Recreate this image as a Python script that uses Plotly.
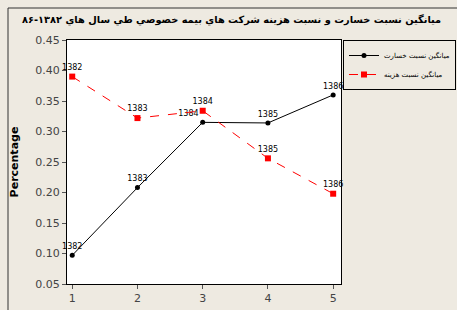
import plotly.graph_objects as go

years = [1, 2, 3, 4, 5]
year_labels = ["1382", "1383", "1384", "1385", "1386"]
loss_ratio = [0.097, 0.208, 0.315, 0.314, 0.360]
cost_ratio = [0.390, 0.322, 0.334, 0.256, 0.198]
y_ticks = [0.05, 0.10, 0.15, 0.20, 0.25, 0.30, 0.35, 0.40, 0.45]

title_text = "ميانگين نسبت خسارت و نسبت هزينه شرکت هاي بيمه خصوصي طي سال هاي ۱۳۸۲-۸۶"
name_loss = "ميانگين نسبت خسارت"
name_cost = "ميانگين نسبت هزينه"

bg = "#EEEAE1"
font_fam = "Tahoma, DejaVu Sans, sans-serif"

fig = go.Figure()
fig.add_trace(go.Scatter(
    x=years, y=loss_ratio, name=name_loss, mode="lines+markers+text",
    line=dict(color="black", width=1),
    marker=dict(symbol="circle", size=5, color="black"),
    text=year_labels,
    textposition=["top center", "top center", "top left", "top center", "top center"],
    textfont=dict(size=8, color="black", family="DejaVu Sans"),
    cliponaxis=False,
))
fig.add_trace(go.Scatter(
    x=years, y=cost_ratio, name=name_cost, mode="lines+markers+text",
    line=dict(color="#FF0000", width=1, dash="dash"),
    marker=dict(symbol="square", size=6, color="#FF0000"),
    text=year_labels, textposition="top center",
    textfont=dict(size=8, color="black", family="DejaVu Sans"),
    cliponaxis=False,
))

L, R, T, B = 67, 116, 40, 26
W, H = 457, 310
pw, ph = W - L - R, H - T - B

def px_x(px):
    return (px - L) / pw

def px_y(py):
    return (H - B - py) / ph

fig.update_layout(
    width=W, height=H,
    margin=dict(l=L, r=R, t=T, b=B, autoexpand=False),
    paper_bgcolor=bg, plot_bgcolor="white",
    font=dict(family=font_fam, color="#333333"),
    showlegend=True,
    legend=dict(
        x=px_x(343), y=1.0, xanchor="left", yanchor="top",
        bgcolor=bg, bordercolor="black", borderwidth=1,
        font=dict(size=7, color="black", family=font_fam),
        tracegroupgap=0, itemwidth=30,
    ),
    xaxis=dict(
        range=[0.92, 5.12], tickvals=years, ticktext=[str(v) for v in years],
        showgrid=False, zeroline=False, showline=True, linecolor="black",
        linewidth=1, mirror=True, ticks="outside", ticklen=4, tickcolor="#555555",
        tickfont=dict(size=11, color="#444444"),
    ),
    yaxis=dict(
        range=[0.05, 0.45], tickvals=y_ticks, tickformat=".2f",
        showgrid=False, zeroline=False, showline=True, linecolor="black",
        linewidth=1, mirror=True, ticks="outside", ticklen=4, tickcolor="#555555",
        tickfont=dict(size=11, color="#444444"),
        title=dict(text="<b>Percentage</b>", font=dict(size=11, color="black"), standoff=14),
    ),
    annotations=[dict(
        text="<b>" + title_text + "</b>", x=px_x(231), y=px_y(20),
        xref="paper", yref="paper", xanchor="center", yanchor="middle",
        showarrow=False, font=dict(size=9.8, color="black", family=font_fam),
    )],
    shapes=[dict(
        type="rect", xref="paper", yref="paper",
        x0=px_x(8), y0=px_y(330), x1=px_x(470), y1=px_y(8),
        line=dict(color="#333333", width=1), layer="below",
    )],
)

fig.write_html(
    "out.html",
    config={"displayModeBar": False},
    post_script="document.body.style.margin='0';document.body.style.background='%s';" % bg,
)
